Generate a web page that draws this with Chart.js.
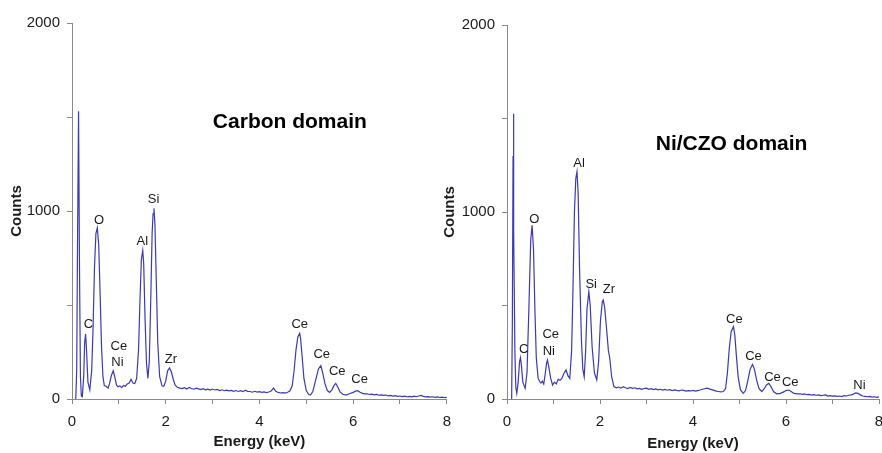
<!DOCTYPE html>
<html>
<head>
<meta charset="utf-8">
<script src="https://cdn.jsdelivr.net/npm/chart.js@4/dist/chart.umd.min.js"></script>
<style>
  html, body { margin: 0; padding: 0; background: #fff; overflow: hidden; width: 882px; height: 453px; }
  canvas { position: absolute; top: 0; }
  #carbon-chart { left: 0; }
  #czo-chart { left: 435px; }
</style>
</head>
<body>
<canvas id="carbon-chart" width="460" height="453"></canvas>
<canvas id="czo-chart" width="460" height="453"></canvas>
<script>
// Carbon domain spectrum (keV, counts)
const carbonEnergy = [
  0.08, 0.10, 0.12, 0.14, 0.16, 0.18, 0.20, 0.22, 0.25, 0.27, 0.29, 0.31, 0.34, 0.38,
  0.42, 0.45, 0.48, 0.51, 0.54, 0.57, 0.60, 0.63, 0.66, 0.69, 0.73, 0.77, 0.80, 0.84, 0.88,
  0.91, 0.95, 0.98, 1.02, 1.06, 1.10, 1.14, 1.18, 1.22, 1.26, 1.30, 1.34, 1.38, 1.42,
  1.45, 1.48, 1.51, 1.53, 1.56, 1.59, 1.62, 1.65, 1.68, 1.71, 1.73, 1.75, 1.77, 1.80,
  1.83, 1.87, 1.92, 1.96, 2.00, 2.04, 2.08, 2.12, 2.16, 2.20, 2.25,
  2.30, 2.35, 2.40, 2.45, 2.50, 2.55, 2.60, 2.65, 2.70, 2.75, 2.80, 2.85, 2.90, 2.95,
  3.00, 3.05, 3.10, 3.15, 3.20, 3.25, 3.30, 3.35, 3.40, 3.45, 3.50, 3.55, 3.60, 3.65,
  3.70, 3.75, 3.80, 3.85, 3.90, 3.95, 4.00, 4.05, 4.10, 4.15, 4.20, 4.25, 4.30, 4.35,
  4.40, 4.45, 4.50, 4.55, 4.60, 4.65, 4.70, 4.74, 4.78, 4.82, 4.86, 4.88, 4.91, 4.95,
  5.00, 5.05, 5.09, 5.14, 5.20, 5.26, 5.31, 5.35, 5.40, 5.45, 5.50, 5.55, 5.60, 5.63,
  5.67, 5.72, 5.78, 5.85, 5.92, 6.00, 6.05, 6.09, 6.15, 6.20, 6.25, 6.30, 6.35, 6.40,
  6.45, 6.50, 6.55, 6.60, 6.65, 6.70, 6.75, 6.80, 6.85, 6.90, 6.95, 7.00, 7.05, 7.10,
  7.15, 7.20, 7.25, 7.30, 7.35, 7.40, 7.45, 7.50, 7.55, 7.60, 7.65, 7.70, 7.75, 7.80,
  7.85, 7.90, 7.95, 8.00
]
const carbonCounts = [
  0, 150, 900, 1530, 700, 120, 15, 12, 120, 300, 345, 260, 90, 48,
  150, 380, 700, 880, 910, 820, 560, 280, 120, 70, 68, 58, 80, 125, 150,
  120, 75, 65, 70, 62, 72, 68, 80, 85, 105, 85, 82, 110, 260,
  520, 740, 790, 720, 420, 190, 110, 200, 520, 880, 985, 1014, 930, 620,
  300, 120, 70, 68, 95, 150, 165, 145, 105, 75, 62,
  58, 55, 60, 53, 62, 56, 52, 58, 54, 50, 55, 49, 52, 47,
  53, 48, 51, 45, 49, 44, 47, 43, 46, 41, 45, 40, 44, 39,
  47, 41, 40, 36, 41, 37, 39, 35, 38, 34, 37, 42, 58, 41,
  35, 32, 34, 31, 36, 42, 70, 150, 260, 330, 349, 320, 230, 110,
  45, 25, 21, 40, 100, 160, 177, 140, 80, 45, 35, 50, 75, 83,
  65, 38, 25, 21, 28, 35, 42, 44, 36, 30, 27, 28, 24, 26,
  22, 24, 20, 22, 19, 21, 17, 19, 15, 18, 14, 16, 13, 15,
  12, 14, 11, 15, 12, 16, 19, 14, 11, 13, 10, 12, 9, 11,
  8, 10, 7, 9
]

// Ni/CZO domain spectrum (keV, counts)
const czoEnergy = [
  0.10, 0.115, 0.13, 0.136, 0.15, 0.17, 0.19, 0.21, 0.24, 0.27, 0.29, 0.31, 0.34, 0.39,
  0.43, 0.47, 0.51, 0.54, 0.57, 0.60, 0.63, 0.67, 0.70, 0.73, 0.76, 0.79, 0.82, 0.85,
  0.87, 0.90, 0.94, 0.98, 1.02, 1.06, 1.10, 1.14, 1.18, 1.22, 1.27, 1.31, 1.35, 1.39,
  1.42, 1.45, 1.48, 1.505, 1.53, 1.56, 1.60, 1.63, 1.66, 1.69, 1.72, 1.76, 1.79, 1.83,
  1.88, 1.93, 1.97, 2.01, 2.05, 2.07, 2.10, 2.14, 2.18, 2.21, 2.25,
  2.30, 2.35, 2.40, 2.45, 2.50, 2.55, 2.60, 2.65, 2.70, 2.75, 2.80, 2.85, 2.90, 2.95,
  3.00, 3.05, 3.10, 3.15, 3.20, 3.25, 3.30, 3.35, 3.40, 3.45, 3.50, 3.55, 3.60, 3.65,
  3.70, 3.75, 3.80, 3.85, 3.90, 3.95, 4.00, 4.05, 4.10, 4.15, 4.20, 4.25, 4.30, 4.35,
  4.40, 4.45, 4.50, 4.55, 4.60, 4.65, 4.70, 4.74, 4.78, 4.82, 4.87, 4.90, 4.93, 4.97,
  5.02, 5.08, 5.13, 5.18, 5.23, 5.28, 5.32, 5.37, 5.42, 5.48, 5.53, 5.58, 5.63, 5.68,
  5.73, 5.80, 5.88, 5.95, 6.00, 6.06, 6.11, 6.17, 6.25, 6.30, 6.35, 6.40, 6.45, 6.50,
  6.55, 6.60, 6.65, 6.70, 6.75, 6.80, 6.85, 6.90, 6.95, 7.00, 7.05, 7.10, 7.15, 7.20,
  7.25, 7.30, 7.35, 7.40, 7.45, 7.50, 7.55, 7.60, 7.65, 7.70, 7.75, 7.80, 7.85, 7.90,
  7.95, 8.00
]
const czoCounts = [
  0, 400, 1300, 1526, 900, 250, 60, 30, 90, 200, 221, 180, 90, 57,
  140, 480, 850, 929, 800, 480, 220, 110, 95, 85, 95, 80, 130, 190,
  208, 170, 110, 75, 90, 80, 105, 100, 110, 135, 155, 125, 110, 260,
  600, 1000, 1180, 1215, 1100, 700, 320, 160, 119, 250, 480, 574, 500, 280,
  140, 102, 200, 420, 520, 529, 490, 380, 260, 218, 120,
  66, 60, 64, 58, 66, 60, 56, 62, 57, 60, 54, 57, 52, 56,
  58, 52, 55, 50, 54, 49, 52, 48, 51, 47, 50, 45, 49, 46,
  44, 48, 46, 42, 45, 43, 46, 42, 45, 48, 52, 55, 58, 54,
  50, 46, 42, 40, 38, 40, 55, 140, 270, 360, 387, 340, 240, 120,
  50, 30, 45, 100, 160, 185, 160, 100, 55, 40, 55, 75, 84, 65,
  40, 28, 30, 38, 45, 48, 40, 30, 27, 28, 25, 27, 23, 25,
  21, 23, 20, 22, 18, 20, 22, 16, 18, 15, 17, 14, 16, 13,
  18, 16, 20, 22, 26, 33, 30, 22, 16, 14, 12, 14, 10, 12,
  9, 11
]

// peak labels: text, energy, counts (where the label sits)
const carbonLabels = ['C', 'O', 'Ce', 'Ni', 'Al', 'Si', 'Zr', 'Ce', 'Ce', 'Ce', 'Ce']
const carbonLabelE = [0.35, 0.576, 1.00, 0.97, 1.50, 1.74, 2.11, 4.86, 5.33, 5.66, 6.14]
const carbonLabelC = [399, 952, 282, 193, 837, 1062, 213, 397, 239, 145, 103]

const czoLabels = ['C', 'O', 'Ce', 'Ni', 'Al', 'Si', 'Zr', 'Ce', 'Ce', 'Ce', 'Ce', 'Ni']
const czoLabelE = [0.36, 0.587, 0.94, 0.90, 1.55, 1.81, 2.19, 4.89, 5.30, 5.71, 6.09, 7.58]
const czoLabelC = [266, 959, 346, 253, 1262, 613, 584, 428, 228, 116, 87, 71]

const xTicks = [0, 2, 4, 6, 8]
const yTicks = [0, 1000, 2000]

const FONT = "'Liberation Sans', Arial, sans-serif"
const LINE_COLOR = '#3a3ab4'
const AXIS_COLOR = '#8a8a8a'

// draws the element labels and the domain title on top of the chart
const peakLabelPlugin = {
    id: 'peakLabels',
    afterDatasetsDraw(chart, args, opts) {
        const { ctx, scales: { x, y } } = chart
        ctx.save()
        ctx.textAlign = 'center'
        ctx.textBaseline = 'middle'
        ctx.fillStyle = '#1a1a1a'
        ctx.font = `13px ${FONT}`
        opts.labels.forEach((txt, i) => {
            ctx.fillText(txt, x.getPixelForValue(opts.energy[i]), y.getPixelForValue(opts.counts[i]))
        })
        ctx.fillStyle = '#000'
        ctx.font = `bold 21px ${FONT}`
        ctx.fillText(opts.title, x.getPixelForValue(opts.titleAt[0]), y.getPixelForValue(opts.titleAt[1]))
        ctx.restore()
    }
}

function makeSpectrum(canvasId, energy, counts, labelOpts, pad) {
    const points = energy.map((e, i) => ({ x: e, y: counts[i] }))
    return new Chart(document.getElementById(canvasId).getContext('2d'), {
        type: 'line',
        data: {
            datasets: [{
                data: points,
                borderColor: LINE_COLOR,
                borderWidth: 1.2,
                pointRadius: 0,
                tension: 0,
                fill: false
            }]
        },
        options: {
            responsive: false,
            animation: false,
            layout: { padding: { top: pad.top, right: pad.right, left: 0, bottom: 0 } },
            plugins: {
                legend: { display: false },
                tooltip: { enabled: false },
                peakLabels: labelOpts
            },
            scales: {
                x: {
                    type: 'linear',
                    min: 0,
                    max: 8,
                    border: { color: AXIS_COLOR, width: 1 },
                    grid: { drawOnChartArea: false, color: AXIS_COLOR, tickLength: 5 },
                    ticks: {
                        stepSize: 1,
                        padding: 9,
                        color: '#1a1a1a',
                        font: { family: FONT, size: 15 },
                        maxRotation: 0,
                        callback: v => xTicks.includes(v) ? v : ''
                    },
                    title: {
                        display: true,
                        text: 'Energy (keV)',
                        color: '#1a1a1a',
                        font: { family: FONT, size: 15, weight: 'bold' },
                        padding: { top: 0, bottom: pad.xTitle }
                    },
                    afterFit: scale => { scale.height = 54 }
                },
                y: {
                    min: 0,
                    max: 2000,
                    border: { color: AXIS_COLOR, width: 1 },
                    grid: { drawOnChartArea: false, color: AXIS_COLOR, tickLength: 5 },
                    ticks: {
                        stepSize: 500,
                        padding: 7,
                        color: '#1a1a1a',
                        font: { family: FONT, size: 15 },
                        callback: v => yTicks.includes(v) ? v : ''
                    },
                    title: {
                        display: true,
                        text: 'Counts',
                        color: '#1a1a1a',
                        font: { family: FONT, size: 15, weight: 'bold' },
                        padding: { top: pad.yTitle, bottom: 0 }
                    },
                    afterFit: scale => { scale.width = 72 }
                }
            }
        },
        plugins: [peakLabelPlugin]
    })
}

const carbonChart = makeSpectrum('carbon-chart', carbonEnergy, carbonCounts, {
    labels: carbonLabels, energy: carbonLabelE, counts: carbonLabelC,
    title: 'Carbon domain', titleAt: [4.65, 1470]
}, { top: 23, right: 13, xTitle: 2, yTitle: 8 })

const czoChart = makeSpectrum('czo-chart', czoEnergy, czoCounts, {
    labels: czoLabels, energy: czoLabelE, counts: czoLabelC,
    title: 'Ni/CZO domain', titleAt: [4.83, 1364]
}, { top: 25, right: 16, xTitle: 0, yTitle: 6 })
</script>
</body>
</html>
